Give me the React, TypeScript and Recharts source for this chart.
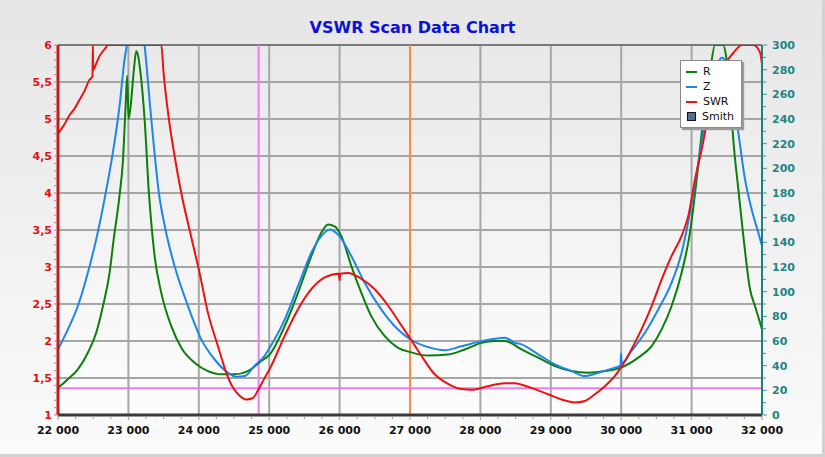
import React from "react";
import { CartesianGrid, Legend, Line, LineChart, ReferenceLine, XAxis, YAxis } from "recharts";

// frequency (x) and value arrays
const swrFreq = [
  22000, 22092, 22163, 22235, 22306, 22377, 22448, 22480, 22490, 22495, 22500, 22530, 22590, 22685, 22710,
  23467, 23500, 23575, 23656, 23751, 23869, 24011, 24130, 24272, 24391, 24485, 24580, 24675, 24769, 24850,
  24935, 25006, 25220, 25409, 25598, 25788, 25990, 26000, 26010, 26120, 26309, 26499, 26688, 26878, 27006,
  27162, 27351, 27541, 27730, 27873, 28110, 28346, 28489, 28584, 28773, 28963, 29152, 29342, 29484, 29626,
  29768, 29911, 29996, 30147, 30290, 30432, 30574, 30716, 30858, 30953, 31048, 31143, 31237, 31332, 31427,
  31522, 31616, 31711, 31877, 31972, 32000,
];
const swrVals = [
  4.8, 4.93, 5.05, 5.14, 5.26, 5.38, 5.53, 5.56, 5.58, 6, 5.66, 5.72, 5.85, 5.97, 6,
  6, 5.62, 5.0, 4.5, 4.0, 3.5, 2.92, 2.38, 1.93, 1.57, 1.37, 1.26, 1.21, 1.23, 1.35,
  1.5, 1.62, 2.07, 2.43, 2.7, 2.86, 2.91, 2.82, 2.91, 2.92, 2.84, 2.7, 2.48, 2.21, 2.03,
  1.8, 1.55, 1.42, 1.35, 1.34, 1.39, 1.43, 1.43, 1.41, 1.35, 1.28, 1.21, 1.17, 1.19, 1.28,
  1.39, 1.53, 1.64, 1.89, 2.16, 2.47, 2.83, 3.15, 3.42, 3.69, 4.18, 4.59, 5.04, 5.45, 5.72,
  5.81, 5.92, 6, 6, 5.9, 5.74,
];

const rFreq = [
  22000, 22140, 22282, 22424, 22543, 22637, 22732, 22790, 22874, 22921, 22960, 22983, 23002, 23031, 23078,
  23111, 23135, 23173, 23230, 23291, 23334, 23372, 23467, 23609, 23751, 23940, 24130, 24319, 24509, 24698,
  24888, 25006, 25220, 25409, 25598, 25740, 25835, 25930, 26025, 26167, 26309, 26451, 26641, 26830, 27006,
  27257, 27541, 27778, 28015, 28204, 28347, 28584, 28821, 29058, 29295, 29532, 29768, 29996, 30242, 30432,
  30574, 30716, 30858, 30977, 31072, 31166, 31261, 31332, 31450, 31497, 31545, 31592, 31664, 31735, 31830,
  31900, 31972, 32000,
];
const rVals = [
  22, 29, 37, 50.5, 66.7, 88, 115, 142, 178, 205, 250, 275, 240, 250, 280,
  295, 292, 277, 240, 180, 150, 129, 99, 72, 54.6, 42.4, 35.6, 33, 33, 35.6,
  43.8, 49, 72, 99, 128.8, 147.7, 154.5, 153, 145, 120.7, 99, 80, 63.9, 54.5, 51,
  48.2, 49, 53.1, 58.5, 59.9, 60, 53.2, 46.5, 39.7, 35.6, 34.3, 35.6, 38.4, 46.5, 55.9,
  69.4, 88.4, 115.4, 147.8, 191, 239.7, 277.6, 300, 300, 288.4, 264, 223.5, 183, 145, 102,
  88.4, 74.9, 69.4,
];

const zFreq = [
  22000, 22140, 22282, 22424, 22543, 22661, 22779, 22874, 22945, 22978, 23050, 23120, 23180, 23230, 23325,
  23433, 23528, 23656, 23846, 24035, 24225, 24414, 24533, 24651, 24793, 24935, 25006, 25220, 25409, 25598,
  25740, 25859, 25977, 26167, 26356, 26593, 26830, 27006, 27257, 27494, 27730, 28015, 28204, 28347, 28489,
  28584, 28821, 29058, 29295, 29484, 29673, 29911, 29990, 29996, 30010, 30147, 30337, 30526, 30716, 30858,
  30977, 31072, 31166, 31261, 31356, 31427, 31497, 31592, 31664, 31759, 31853, 31948, 32000,
];
const zVals = [
  53.2, 69.4, 88.4, 115.4, 142.4, 175, 212.7, 250.5, 288.4, 300, 340, 345, 325, 300, 240,
  180, 150, 120.8, 88.4, 61.3, 45, 34.3, 31, 31.6, 40, 48, 54.5, 77.4, 104.4, 131.5,
  145, 150.4, 146.3, 128.8, 107.2, 85.5, 69.3, 61.2, 55, 52.5, 55.7, 59.9, 61.8, 62.7, 58.5,
  57.3, 49.2, 41.1, 35.6, 31.6, 34.3, 38.4, 40, 50, 42, 51.9, 66.7, 85.6, 107.3, 131.6,
  164, 196.5, 228.9, 264, 283, 289.7, 285.7, 258.6, 228.9, 191, 166.7, 147.8, 137,
];

const legendOrder = ["R", "Z", "SWR"];
const xGrid = [22000, 23000, 24000, 25000, 26000, 27000, 28000, 29000, 30000, 31000, 32000];
const xTicks = Array.from({ length: 41 }, (_, i) => 22000 + i * 250);
const swrGrid = [1, 1.5, 2, 2.5, 3, 3.5, 4, 4.5, 5, 5.5, 6];
const swrTicks = Array.from({ length: 51 }, (_, i) => Math.round((1 + i / 10) * 10) / 10);
const ohmTicks = Array.from({ length: 31 }, (_, i) => i * 10);
const markerFreqs = [
  { f: 24850, color: "#f07af0" },
  { f: 27000, color: "#ff8a3d" },
];
const swrLimit = 1.36;

const swrData = swrFreq.map((f, i) => ({ f, v: swrVals[i] }));
const rData = rFreq.map((f, i) => ({ f, v: rVals[i] }));
const zData = zFreq.map((f, i) => ({ f, v: zVals[i] }));

const font = "'DejaVu Sans', Verdana, sans-serif";

const XTick = (props: any) => {
  const { x, y, payload } = props;
  const major = payload.value % 1000 === 0;
  return (
    <g>
      <line x1={x} x2={x} y1={y + 1} y2={y + (major ? 5 : 4)} stroke="#999" strokeWidth={1} />
      {major && (
        <text x={x} y={y + 19} textAnchor="middle" fontSize={11} fontWeight="bold" fill="#111" fontFamily={font}>
          {String(payload.value).replace(/\B(?=(\d{3})+(?!\d))/g, " ")}
        </text>
      )}
    </g>
  );
};

const LeftTick = (props: any) => {
  const { x, y, payload } = props;
  const v = payload.value;
  const major = Math.abs(v * 2 - Math.round(v * 2)) < 1e-6;
  return (
    <g>
      <line x1={x - 4} x2={x - 1} y1={y} y2={y} stroke="#d08080" strokeWidth={1} />
      {major && (
        <text x={x - 6} y={y + 4} textAnchor="end" fontSize={11} fontWeight="bold" fill="#e01010" fontFamily={font}>
          {String(v).replace(".", ",")}
        </text>
      )}
    </g>
  );
};

const RightTick = (props: any) => {
  const { x, y, payload } = props;
  const major = payload.value % 20 === 0;
  return (
    <g>
      <line x1={x + 1} x2={x + (major ? 5 : 4)} y1={y} y2={y} stroke="#3a9a9a" strokeWidth={1} />
      {major && (
        <text x={x + 10} y={y + 4} textAnchor="start" fontSize={11} fontWeight="bold" fill="#1e8585" fontFamily={font}>
          {payload.value}
        </text>
      )}
    </g>
  );
};

const LegendBox = (props: any) => {
  const items = [...(props.payload || [])].sort(
    (a: any, b: any) => legendOrder.indexOf(a.value) - legendOrder.indexOf(b.value)
  );
  return (
    <div
      style={{
        background: "#fff",
        border: "1px solid #8a8a8a",
        boxShadow: "2px 2px 1px #9a9a9a",
        padding: "3px 0 3px 5px",
        fontFamily: font,
        fontSize: 11,
        color: "#111",
        lineHeight: "15px",
      }}
    >
      {items.map((it: any) => (
        <div key={it.value} style={{ display: "flex", alignItems: "center" }}>
          <span style={{ display: "inline-block", width: 11, height: 2, background: it.color, marginRight: 6 }} />
          {it.value}
        </div>
      ))}
      <div style={{ display: "flex", alignItems: "center" }}>
        <span
          style={{
            display: "inline-block",
            width: 7,
            height: 7,
            background: "#5a6a96",
            border: "1.5px solid #111",
            marginLeft: 1,
            marginRight: 6,
          }}
        />
        Smith
      </div>
    </div>
  );
};

export default function App() {
  return (
    <div
      style={{
        position: "absolute",
        left: 0,
        top: 0,
        width: 825,
        height: 457,
        boxSizing: "border-box",
        borderRight: "3px solid #d2d2d2",
        borderBottom: "3px solid #d2d2d2",
        background: "linear-gradient(#e6e6e6, #f4f4f4 70%, #fbfbfb)",
        fontFamily: font,
      }}
    >
      <div
        style={{
          position: "absolute",
          left: 0,
          width: 825,
          top: 18,
          textAlign: "center",
          fontSize: 16,
          fontWeight: "bold",
          color: "#0d10d6",
        }}
      >
        VSWR Scan Data Chart
      </div>
      <LineChart width={825} height={457} margin={{ top: 45, right: 0, bottom: 0, left: 0 }}>
        <defs>
          <linearGradient id="plotBg" x1="0" y1="0" x2="0" y2="1">
            <stop offset="0%" stopColor="#e9e9e9" />
            <stop offset="100%" stopColor="#fdfdfd" />
          </linearGradient>
        </defs>
        <CartesianGrid
          yAxisId="left"
          fill="url(#plotBg)"
          stroke="#a6a6a6"
          strokeWidth={2}
          horizontalValues={swrGrid}
          verticalValues={xGrid}
        />
        <XAxis
          type="number"
          dataKey="f"
          domain={[22000, 32000]}
          ticks={xTicks}
          interval={0}
          allowDataOverflow
          height={42}
          tickSize={0}
          tickMargin={0}
          tick={<XTick />}
          axisLine={{ stroke: "#3a3a3a", strokeWidth: 3 }}
        />
        <YAxis
          yAxisId="left"
          type="number"
          domain={[1, 6]}
          ticks={swrTicks}
          interval={0}
          allowDataOverflow
          width={58}
          tickSize={0}
          tickMargin={0}
          tick={<LeftTick />}
          axisLine={{ stroke: "#c41c1c", strokeWidth: 3 }}
        />
        <YAxis
          yAxisId="right"
          orientation="right"
          type="number"
          domain={[0, 300]}
          ticks={ohmTicks}
          interval={0}
          allowDataOverflow
          width={63}
          tickSize={0}
          tickMargin={0}
          tick={<RightTick />}
          axisLine={{ stroke: "#1e8080", strokeWidth: 2 }}
        />
        <ReferenceLine yAxisId="left" y={6} stroke="#7a7a7a" strokeWidth={2} />
        {markerFreqs.map((m) => (
          <ReferenceLine key={m.f} yAxisId="left" x={m.f} stroke={m.color} strokeWidth={2} />
        ))}
        <ReferenceLine yAxisId="left" y={swrLimit} stroke="#f07af0" strokeWidth={2} />
        <Line data={rData} dataKey="v" name="R" yAxisId="right" type="monotone" stroke="#0a7f0a" strokeWidth={2} dot={false} isAnimationActive={false} />
        <Line data={zData} dataKey="v" name="Z" yAxisId="right" type="monotone" stroke="#1d86e8" strokeWidth={2} dot={false} isAnimationActive={false} />
        <Line data={swrData} dataKey="v" name="SWR" yAxisId="left" type="monotone" stroke="#ec1212" strokeWidth={2} dot={false} isAnimationActive={false} />
        <Legend
          layout="vertical"
          align="center"
          verticalAlign="middle"
          wrapperStyle={{ left: 680, top: 60, width: 62 }}
          content={<LegendBox />}
        />
      </LineChart>
    </div>
  );
}
